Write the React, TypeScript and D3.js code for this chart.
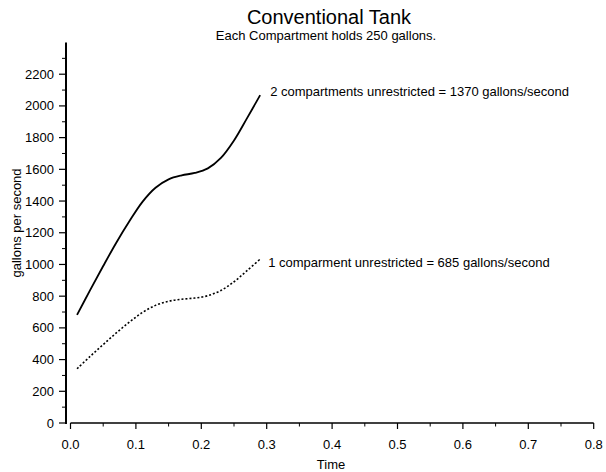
import React, { useRef, useEffect } from 'react';
import * as d3 from 'd3';

const times = [0.01, 0.03, 0.05, 0.07, 0.09, 0.11, 0.13, 0.15, 0.17, 0.19, 0.21, 0.23, 0.25, 0.27, 0.29];
const twoCompartments = [682, 838, 990, 1137, 1272, 1395, 1484, 1537, 1562, 1577, 1606, 1672, 1782, 1923, 2068];
const oneCompartment = [342, 420, 495, 568, 636, 697, 742, 768, 781, 788, 803, 836, 891, 961, 1034];
const xTicks = [0, 0.1, 0.2, 0.3, 0.4, 0.5, 0.6, 0.7, 0.8];
const yTicks = [0, 200, 400, 600, 800, 1000, 1200, 1400, 1600, 1800, 2000, 2200];
const twoLabel = '2 compartments unrestricted = 1370 gallons/second';
const oneLabel = '1 comparment unrestricted = 685 gallons/second';

const App = () => {
  const ref = useRef<SVGSVGElement>(null);
  const width = 606;
  const height = 472;

  useEffect(() => {
    const svg = d3.select(ref.current);
    svg.selectAll('*').remove();
    const font = '"Liberation Sans", Arial, sans-serif';

    const x = d3.scaleLinear().domain([0, 0.8]).range([70.5, 593.7]);
    const y = d3.scaleLinear().domain([0, 2400]).range([423, 42.5]);
    const axisX = 66;

    // title
    svg.append('text')
      .attr('x', 329).attr('y', 24)
      .attr('text-anchor', 'middle')
      .attr('font-family', font).attr('font-size', 20)
      .text('Conventional Tank');
    svg.append('text')
      .attr('x', 326).attr('y', 40)
      .attr('text-anchor', 'middle')
      .attr('font-family', font).attr('font-size', 13)
      .text('Each Compartment holds 250 gallons.');

    // y axis
    svg.append('line')
      .attr('x1', axisX).attr('x2', axisX)
      .attr('y1', y(2400)).attr('y2', y(0) + 1)
      .attr('stroke', '#000').attr('stroke-width', 2);
    const yMinor = d3.range(100, 2400, 200);
    svg.append('g').selectAll('line')
      .data(yMinor).join('line')
      .attr('x1', axisX - 4).attr('x2', axisX)
      .attr('y1', d => y(d)).attr('y2', d => y(d))
      .attr('stroke', '#000').attr('stroke-width', 1);
    svg.append('g').selectAll('line')
      .data(yTicks).join('line')
      .attr('x1', axisX - 7).attr('x2', axisX)
      .attr('y1', d => y(d)).attr('y2', d => y(d))
      .attr('stroke', '#000').attr('stroke-width', 1.2);
    svg.append('g').selectAll('text')
      .data(yTicks).join('text')
      .attr('x', 54).attr('y', d => y(d) + 4.5)
      .attr('text-anchor', 'end')
      .attr('font-family', font).attr('font-size', 13)
      .text(d => String(d));
    svg.append('text')
      .attr('transform', 'translate(21,223) rotate(-90)')
      .attr('text-anchor', 'middle')
      .attr('font-family', font).attr('font-size', 13)
      .text('gallons per second');

    // x axis
    svg.append('line')
      .attr('x1', x(0)).attr('x2', x(0.8))
      .attr('y1', y(0)).attr('y2', y(0))
      .attr('stroke', '#000').attr('stroke-width', 1.5);
    const xMinor = d3.range(0.05, 0.8, 0.1);
    svg.append('g').selectAll('line')
      .data(xMinor).join('line')
      .attr('x1', d => x(d)).attr('x2', d => x(d))
      .attr('y1', y(0)).attr('y2', y(0) + 3.5)
      .attr('stroke', '#000').attr('stroke-width', 1);
    svg.append('g').selectAll('line')
      .data(xTicks).join('line')
      .attr('x1', d => x(d)).attr('x2', d => x(d))
      .attr('y1', y(0)).attr('y2', y(0) + 6)
      .attr('stroke', '#000').attr('stroke-width', 1.2);
    svg.append('g').selectAll('text')
      .data(xTicks).join('text')
      .attr('x', d => x(d)).attr('y', 449)
      .attr('text-anchor', 'middle')
      .attr('font-family', font).attr('font-size', 13)
      .text(d => d.toFixed(1));
    svg.append('text')
      .attr('x', 331).attr('y', 469)
      .attr('text-anchor', 'middle')
      .attr('font-family', font).attr('font-size', 13)
      .text('Time');

    // series
    const line = d3.line<[number, number]>()
      .x(d => x(d[0]))
      .y(d => y(d[1]))
      .curve(d3.curveCatmullRom.alpha(0.5));

    const two = times.map((t, i) => [t, twoCompartments[i]] as [number, number]);
    const one = times.map((t, i) => [t, oneCompartment[i]] as [number, number]);

    svg.append('path')
      .attr('d', line(two))
      .attr('fill', 'none')
      .attr('stroke', '#000')
      .attr('stroke-width', 1.8);
    svg.append('path')
      .attr('d', line(one))
      .attr('fill', 'none')
      .attr('stroke', '#000')
      .attr('stroke-width', 1.6)
      .attr('stroke-dasharray', '2,2');

    const lastT = times[times.length - 1];
    svg.append('text')
      .attr('x', x(lastT) + 10)
      .attr('y', y(twoCompartments[twoCompartments.length - 1]) + 0.5)
      .attr('font-family', font).attr('font-size', 13)
      .text(twoLabel);
    svg.append('text')
      .attr('x', x(lastT) + 8)
      .attr('y', y(oneCompartment[oneCompartment.length - 1]) + 8)
      .attr('font-family', font).attr('font-size', 13)
      .text(oneLabel);

    return () => {
      d3.select(ref.current).selectAll('*').remove();
    };
  }, []);

  return (
    <svg
      ref={ref}
      width={width}
      height={height}
      style={{ position: 'absolute', left: 0, top: 0, background: '#fff' }}
    ></svg>
  );
};

export default App;
